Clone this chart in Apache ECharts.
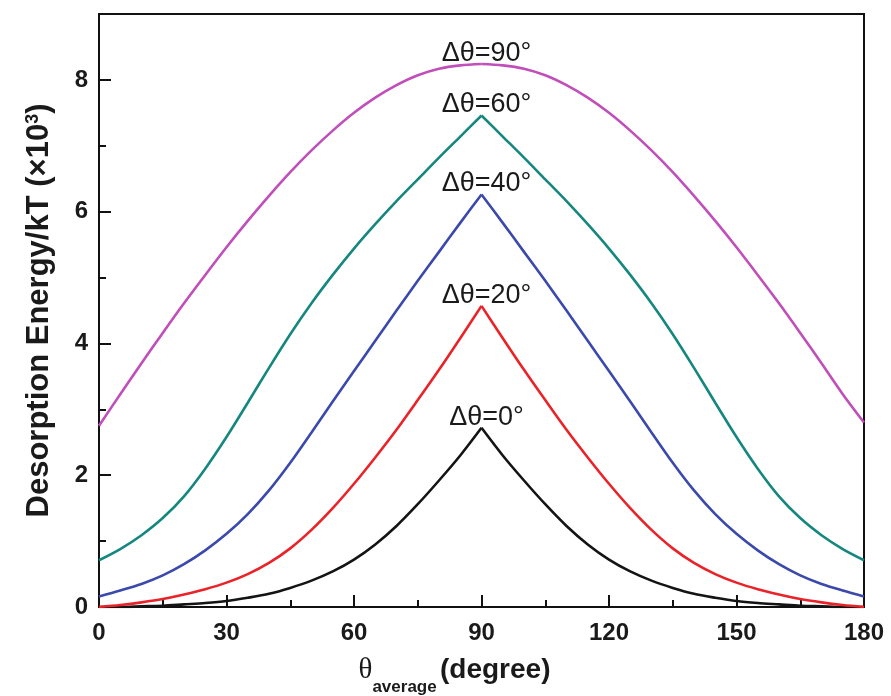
<!DOCTYPE html>
<html>
<head>
<meta charset="utf-8">
<script src="https://cdn.jsdelivr.net/npm/echarts@6/dist/echarts.min.js"></script>
<style>
  html, body { margin: 0; padding: 0; background: #fff; }
  #chart { width: 891px; height: 696px; }
</style>
</head>
<body>
<div id="chart"></div>
<script>
// θ_average (degree), 5° steps
var theta = [0, 5, 10, 15, 20, 25, 30, 35, 40, 45, 50, 55, 60, 65, 70, 75, 80, 85, 90,
  95, 100, 105, 110, 115, 120, 125, 130, 135, 140, 145, 150, 155, 160, 165, 170, 175, 180];

// desorption energy / kT (x10^3)
var dt0 = [0.00, 0.00, 0.01, 0.02, 0.04, 0.06, 0.09, 0.14, 0.20, 0.29, 0.40, 0.54, 0.72, 0.95, 1.23, 1.56, 1.92, 2.30, 2.72,
  2.30, 1.92, 1.56, 1.23, 0.95, 0.72, 0.54, 0.40, 0.29, 0.20, 0.14, 0.09, 0.06, 0.04, 0.02, 0.01, 0.00, 0.00];
var dt20 = [0.00, 0.03, 0.07, 0.12, 0.19, 0.27, 0.37, 0.50, 0.67, 0.89, 1.17, 1.50, 1.87, 2.27, 2.69, 3.14, 3.60, 4.08, 4.57,
  4.08, 3.60, 3.14, 2.69, 2.27, 1.87, 1.50, 1.17, 0.89, 0.67, 0.50, 0.37, 0.27, 0.19, 0.12, 0.07, 0.03, 0.00];
var dt40 = [0.16, 0.25, 0.35, 0.48, 0.65, 0.86, 1.11, 1.41, 1.77, 2.19, 2.65, 3.12, 3.58, 4.04, 4.50, 4.95, 5.39, 5.83, 6.26,
  5.83, 5.39, 4.95, 4.50, 4.04, 3.58, 3.12, 2.65, 2.19, 1.77, 1.41, 1.11, 0.86, 0.65, 0.48, 0.35, 0.25, 0.16];
var dt60 = [0.71, 0.88, 1.09, 1.35, 1.68, 2.10, 2.58, 3.10, 3.63, 4.14, 4.61, 5.04, 5.44, 5.81, 6.16, 6.49, 6.82, 7.14, 7.46,
  7.14, 6.82, 6.49, 6.16, 5.81, 5.44, 5.04, 4.61, 4.14, 3.63, 3.10, 2.58, 2.10, 1.68, 1.35, 1.09, 0.88, 0.71];
var dt90 = [2.75, 3.23, 3.70, 4.16, 4.61, 5.04, 5.46, 5.86, 6.24, 6.60, 6.93, 7.23, 7.50, 7.73, 7.92, 8.07, 8.17, 8.22, 8.24,
  8.22, 8.17, 8.07, 7.92, 7.73, 7.50, 7.23, 6.93, 6.60, 6.24, 5.86, 5.46, 5.04, 4.61, 4.16, 3.70, 3.23, 2.80];

var curveNames = ['Δθ=0°', 'Δθ=20°', 'Δθ=40°', 'Δθ=60°', 'Δθ=90°'];
var curveData = [dt0, dt20, dt40, dt60, dt90];
var curveColors = ['#141414', '#ea2329', '#3a49ab', '#15877f', '#c04fb9'];
var peakIdx = 18;

var FONT = '"Liberation Sans", Arial, Helvetica, sans-serif';

var chart = echarts.init(document.getElementById('chart'));

// each curve is drawn as two smooth halves that meet at the sharp peak
function half(i, from, to, withLabel) {
  var pts = [];
  for (var k = from; k <= to; k++) pts.push([theta[k], curveData[i][k]]);
  return {
    name: curveNames[i],
    type: 'line',
    data: pts,
    smooth: 0.3,
    showSymbol: withLabel,
    symbol: 'circle',
    symbolSize: 0,
    silent: true,
    lineStyle: { color: curveColors[i], width: 2.6 },
    itemStyle: { color: curveColors[i] },
    label: {
      show: withLabel,
      position: 'top',
      distance: 2,
      offset: [5, 5],
      color: '#1a1a1a',
      fontFamily: FONT,
      fontSize: 27,
      formatter: function (p) { return p.data[0] === theta[peakIdx] ? p.seriesName : ''; }
    },
    z: 3
  };
}

var series = [];
for (var i = 0; i < curveNames.length; i++) {
  series.push(half(i, 0, peakIdx, true));
  series.push(half(i, peakIdx, theta.length - 1, false));
}

chart.setOption({
  backgroundColor: '#fff',
  animation: false,
  grid: {
    left: 99, right: 27, top: 14, bottom: 89,
    outerBoundsMode: 'none',
    show: true, borderColor: '#111', borderWidth: 2
  },
  xAxis: {
    type: 'value',
    min: 0, max: 180, interval: 30,
    name: '{t|θ}{sub|average} {m|(degree)}',
    nameLocation: 'middle',
    nameGap: 49,
    nameTextStyle: {
      padding: [0, 54, 0, 0],
      rich: {
        t: { fontFamily: '"Liberation Serif", "DejaVu Serif", serif', fontSize: 29, color: '#1a1a1a', lineHeight: 30, verticalAlign: 'top' },
        sub: { fontFamily: FONT, fontWeight: 'bold', fontSize: 17, color: '#1a1a1a', lineHeight: 18, padding: [23, 0, 0, 0], verticalAlign: 'top' },
        m: { fontFamily: FONT, fontWeight: 'bold', fontSize: 28, color: '#1a1a1a', lineHeight: 30, verticalAlign: 'top' }
      }
    },
    axisLine: { lineStyle: { color: '#111', width: 2 } },
    axisTick: { inside: true, length: 12, lineStyle: { color: '#111', width: 2 } },
    minorTick: { show: true, splitNumber: 2, length: 7, lineStyle: { color: '#111', width: 2 } },
    axisLabel: { margin: 14, color: '#1a1a1a', fontFamily: FONT, fontWeight: 'bold', fontSize: 24 },
    splitLine: { show: false },
    minorSplitLine: { show: false }
  },
  yAxis: [{
    type: 'value',
    min: 0, max: 9, interval: 2,
    name: 'Desorption Energy/kT (×10{sup|3})',
    nameLocation: 'middle',
    nameGap: 44,
    nameTextStyle: {
      fontFamily: FONT, fontWeight: 'bold', fontSize: 31, color: '#1a1a1a',
      rich: {
        sup: { fontFamily: FONT, fontWeight: 'bold', fontSize: 18, color: '#1a1a1a', verticalAlign: 'top', lineHeight: 30, padding: [0, 0, 12, 0] }
      }
    },
    axisLine: { lineStyle: { color: '#111', width: 2 } },
    axisTick: { inside: true, length: 12, lineStyle: { color: '#111', width: 2 } },
    axisLabel: { margin: 11, color: '#1a1a1a', fontFamily: FONT, fontWeight: 'bold', fontSize: 24, showMaxLabel: false },
    splitLine: { show: false }
  }, {
    type: 'value',
    position: 'left',
    min: 0, max: 9, interval: 1,
    axisLine: { show: false },
    axisTick: { inside: true, length: 7, lineStyle: { color: '#111', width: 2 } },
    axisLabel: { show: false },
    splitLine: { show: false }
  }],
  series: series
});
</script>
</body>
</html>
